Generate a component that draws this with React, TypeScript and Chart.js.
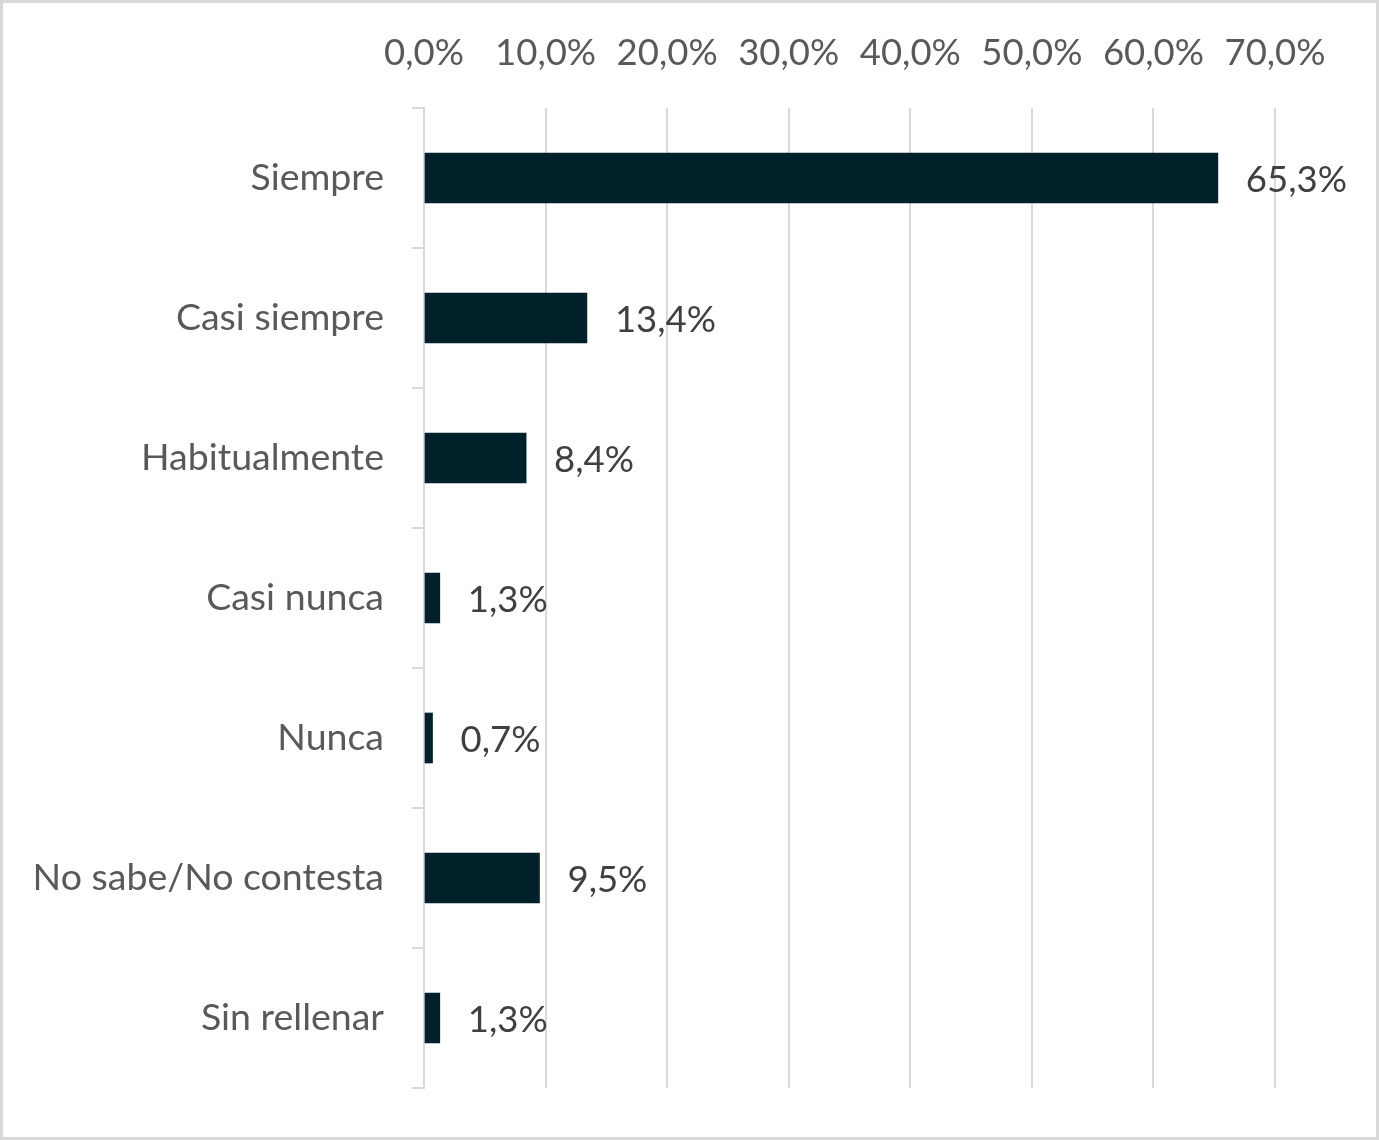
import React, { useEffect, useRef } from "react";
import { Chart, registerables } from "chart.js";

Chart.register(...registerables);

const categories = [
  "Siempre",
  "Casi siempre",
  "Habitualmente",
  "Casi nunca",
  "Nunca",
  "No sabe/No contesta",
  "Sin rellenar",
];
const values = [65.3, 13.4, 8.4, 1.3, 0.7, 9.5, 1.3];
const axisMin = 0;
const axisMax = 70;
const axisStep = 10;

const fmt = (v: number) => v.toFixed(1).replace(".", ",") + "%";

const W = 1379;
const H = 1140;
const FONT = "Lato";

const framePlugin = {
  id: "frame",
  beforeDraw(chart: any) {
    const ctx = chart.ctx;
    ctx.save();
    ctx.fillStyle = "#ffffff";
    ctx.fillRect(0, 0, chart.width, chart.height);
    ctx.restore();
  },
  afterDraw(chart: any) {
    const ctx = chart.ctx;
    ctx.save();
    ctx.fillStyle = "#d9d9d9";
    ctx.fillRect(0, 0, chart.width, 3);
    ctx.fillRect(0, chart.height - 3, chart.width, 3);
    ctx.fillRect(0, 0, 3, chart.height);
    ctx.fillRect(chart.width - 3, 0, 3, chart.height);
    ctx.restore();
  },
};

const labelPlugin = {
  id: "valueLabels",
  afterDatasetsDraw(chart: any) {
    const ctx = chart.ctx;
    const meta = chart.getDatasetMeta(0);
    ctx.save();
    ctx.font = `36.5px ${FONT}`;
    ctx.fillStyle = "#404040";
    ctx.textAlign = "left";
    ctx.textBaseline = "middle";
    meta.data.forEach((bar: any, i: number) => {
      const v = chart.data.datasets[0].data[i] as number;
      ctx.fillText(fmt(v), bar.x + 28, bar.y + 2);
    });
    ctx.restore();
  },
};

export default function App() {
  const ref = useRef<HTMLCanvasElement | null>(null);

  useEffect(() => {
    if (!ref.current) return;
    const chart = new Chart(ref.current, {
      type: "bar",
      data: {
        labels: categories,
        datasets: [
          {
            data: values,
            backgroundColor: "#01212a",
            barThickness: 50,
          },
        ],
      },
      options: {
        indexAxis: "y",
        responsive: false,
        animation: false,
        layout: { padding: { left: 0, top: 0, right: 104, bottom: 52 } },
        plugins: {
          legend: { display: false },
          tooltip: { enabled: false },
        },
        scales: {
          x: {
            position: "top",
            min: axisMin,
            max: axisMax,
            afterFit: (scale: any) => {
              scale.height = 108;
            },
            ticks: {
              stepSize: axisStep,
              padding: 33,
              color: "#595959",
              font: { family: FONT, size: 36.5 },
              callback: (v: any) => fmt(Number(v)),
              maxRotation: 0,
            },
            grid: {
              color: "#d9d9d9",
              lineWidth: 2,
              drawTicks: false,
            },
            border: { display: false },
          },
          y: {
            afterFit: (scale: any) => {
              scale.width = 424;
            },
            ticks: {
              padding: 28,
              color: "#595959",
              font: { family: FONT, size: 37.5 },
            },
            grid: {
              drawOnChartArea: false,
              drawTicks: true,
              tickLength: 12,
              color: "#d9d9d9",
              lineWidth: 2,
            },
            border: { display: true, color: "#d9d9d9", width: 2 },
          },
        },
      },
      plugins: [framePlugin, labelPlugin],
    });
    return () => chart.destroy();
  }, []);

  return (
    <div style={{ position: "absolute", left: 0, top: 0, width: W, height: H }}>
      <canvas ref={ref} width={W} height={H} style={{ width: W, height: H, display: "block" }} />
    </div>
  );
}
